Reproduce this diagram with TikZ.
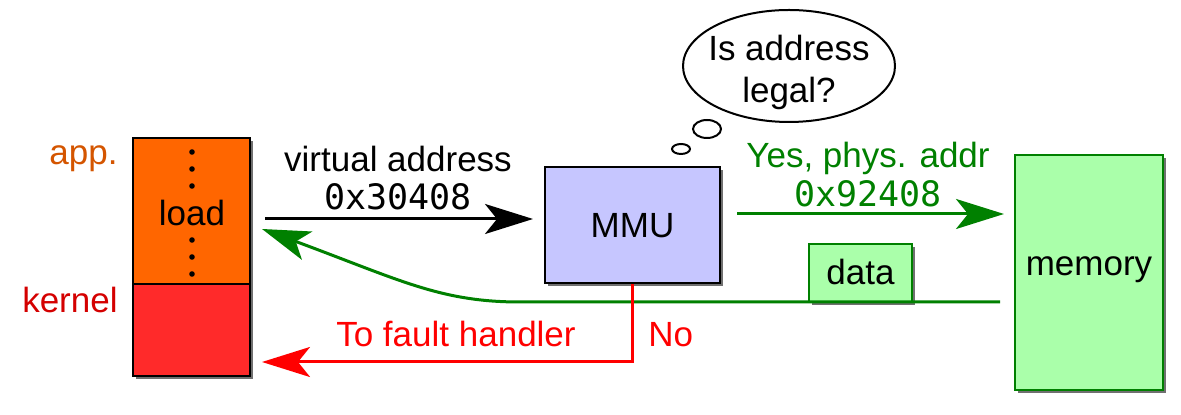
\documentclass[tikz,border=0pt]{standalone}
\usepackage{fontspec}
\setmainfont{Liberation Sans}
\newfontfamily\hexfont{DejaVu Sans Mono}
\usetikzlibrary{arrows.meta,shadows,shapes.geometric}
\definecolor{appfill}{HTML}{FF6600}
\definecolor{apptext}{HTML}{D45500}
\definecolor{kernfill}{HTML}{FF2A2A}
\definecolor{kerntext}{HTML}{D40000}
\definecolor{mmufill}{HTML}{C6C6FF}
\definecolor{memfill}{HTML}{AAFFAA}
\definecolor{okgreen}{HTML}{008000}
\definecolor{faultred}{HTML}{FF0000}

\begin{document}
\begin{tikzpicture}[x=0.5pt,y=-0.5pt,font=\fontsize{17.5}{22.5}\selectfont,
  box/.style={draw,line width=1pt,inner sep=0pt,
    drop shadow={shadow xshift=1.5pt,shadow yshift=-1.5pt,opacity=.7,fill=black!80}},
  bigarrow/.style={line width=1.5pt,-{Stealth[length=24pt,width=15pt,inset=6pt]}},
  lbl/.style={anchor=base,inner sep=0pt}]
\useasboundingbox (0,0) rectangle (1181,415);

% address space of the process
\node[box,fill=appfill,minimum width=58.5pt,minimum height=73pt] (app) at (191.5,211) {};
\node[box,fill=kernfill,minimum width=58.5pt,minimum height=46pt] (kern) at (191.5,330) {};
\node[lbl] (load) at (192,226) {load};
\foreach \y in {152,169,186,240,257,274}
  \fill (192,\y) circle (1.4pt);
\node[lbl,anchor=base east,text=apptext] (applbl) at (118,165) {app.};
\node[lbl,anchor=base east,text=kerntext] (kernlbl) at (118,313) {kernel};

% mmu and its thought
\node[box,fill=mmufill,minimum width=87.5pt,minimum height=58pt] (mmu) at (632.5,225) {};
\node[lbl] (mmulbl) at (632.5,238) {MMU};
\node[ellipse,draw,line width=1pt,minimum width=106pt,minimum height=56pt,inner sep=0pt] (think) at (789,66) {};
\node[lbl] (q1) at (789,61) {Is address};
\node[lbl] (q2) at (789,103) {legal?};
\node[ellipse,draw,line width=1pt,minimum width=14pt,minimum height=9pt,inner sep=0pt] (b1) at (707,129) {};
\node[ellipse,draw,line width=1pt,minimum width=9pt,minimum height=5pt,inner sep=0pt] (b2) at (681,149) {};

% memory side
\node[box,draw=okgreen,fill=memfill,minimum width=74pt,minimum height=117.5pt] (mem) at (1089,272.5) {};
\node[lbl] (memlbl) at (1089,276) {memory};
\node[box,draw=okgreen,fill=memfill,minimum width=51.5pt,minimum height=29pt] (data) at (860.5,273) {};
\node[lbl] (datalbl) at (860.5,285) {data};

% virtual address in
\coordinate (va) at (265,219);
\draw[bigarrow,shorten >=5.5pt] (va) -- (va -| mmu.west);
\node[lbl] (vtxt) at (398,172) {virtual address};
\node[lbl,font=\fontsize{17.5}{22.5}\hexfont] (vhex) at (398,210) {0x30408};

% physical address out
\coordinate (pa) at (737,214);
\draw[bigarrow,okgreen,shorten >=5pt] (pa) -- (pa -| mem.west);
\node[lbl,text=okgreen] (ptxt) at (868,168) {Yes, phys. addr};
\node[lbl,text=okgreen,font=\fontsize{17.5}{22.5}\hexfont] (phex) at (868,207) {0x92408};

% data back to the process
\coordinate (rs) at (1000,302);
\coordinate (rt) at (262,229);
\draw[bigarrow,okgreen] (rs) -- (520,302) .. controls (440,302) and (400,280) .. (rt);

% fault path
\coordinate (ft) at (262,362);
\draw[bigarrow,faultred] (mmu.south) |- (ft);
\node[lbl,text=faultred] (flbl) at (456,347) {To fault handler};
\node[lbl,anchor=base west,text=faultred] (nolbl) at (648,347) {No};
\end{tikzpicture}
\end{document}
